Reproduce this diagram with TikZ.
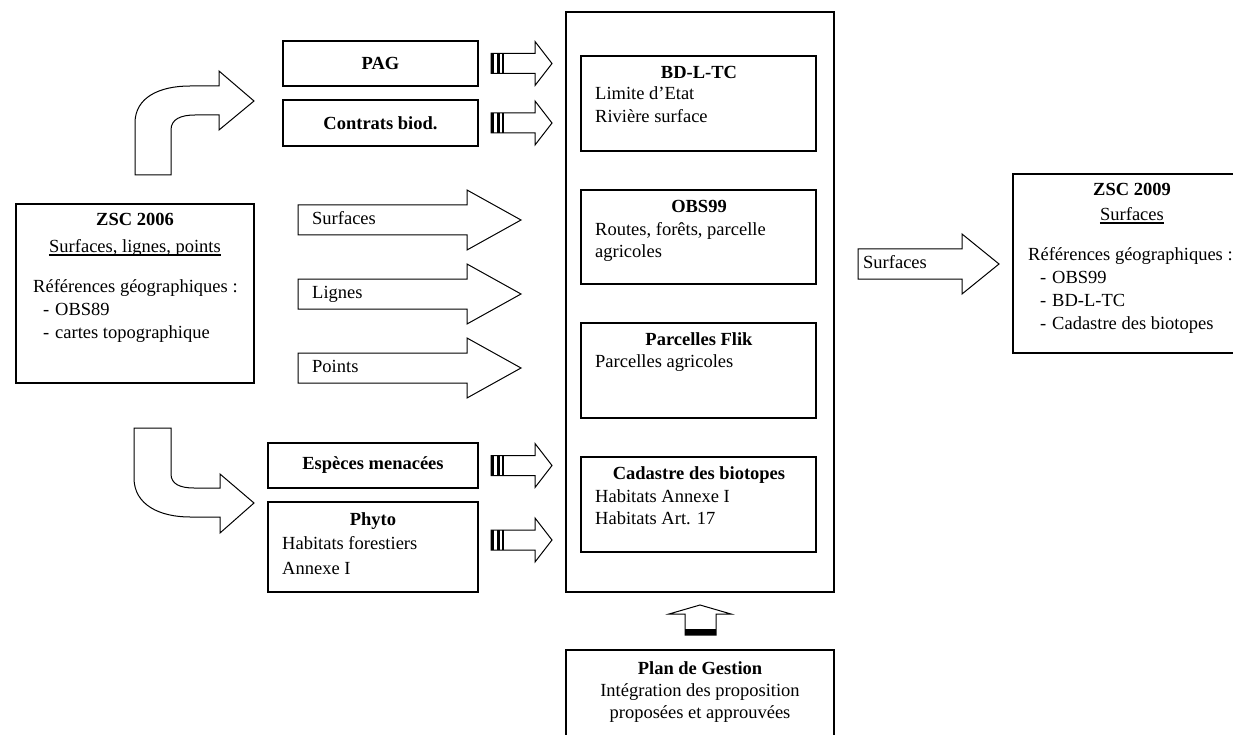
\documentclass[tikz,border=0pt]{standalone}
\usepackage{fontspec}
\setmainfont{Liberation Serif}
\newcommand\myarrow[6]{% x0, yc, xheadbase, xtip, stemhalf, headhalf
  \draw[arr] (#1,#2-#5) -- (#3,#2-#5) -- (#3,#2-#6) -- (#4,#2) -- (#3,#2+#6) -- (#3,#2+#5) -- (#1,#2+#5) -- cycle;}
\newcommand\stripes[2]{% x0, yc
  \fill (#1,#2-10) rectangle (#1+3,#2+10);
  \fill (#1+6,#2-10) rectangle (#1+8.5,#2+10);
  \fill (#1+10.5,#2-10) rectangle (#1+12.5,#2+10);}
\newcommand\dashitem[1]{\makebox[12pt][l]{-}#1}
\newcommand\myfs{\fontsize{18.5}{23}\selectfont}
\begin{document}
\begin{tikzpicture}[x=1pt,y=-1pt,font=\myfs,
  box/.style={draw,line width=1.3pt,inner sep=0pt},
  arr/.style={draw,line width=1pt,fill=white,line join=miter},
  txt/.style={anchor=mid west,inner sep=0pt},
  ttl/.style={anchor=mid,inner sep=0pt,font=\myfs\bfseries},
  ctr/.style={anchor=mid,inner sep=0pt},
  ulin/.style={line width=1.8pt}]
\useasboundingbox (0,0) rectangle (1233,735);
\fill[white] (0,0) rectangle (1233,735);

% left source box
\node[box,minimum width=238pt,minimum height=179pt] (zsc06) at (135,293.5) {};
\node[ttl] (zsc06t) at (135,223) {ZSC 2006};
\node[ctr] (zsc06s) at (135,250) {Surfaces, lignes, points};
\draw[ulin] ([yshift=-3pt]zsc06s.base west) -- ([yshift=-3pt]zsc06s.base east);
\node[txt] (zsc06r) at (33,290) {Références géographiques :};
\node[txt] (zsc06a) at (43,313) {\dashitem{OBS89}};
\node[txt] (zsc06b) at (43,336) {\dashitem{cartes topographique}};

% upper curved arrow
\draw[arr] (135,175) -- (135,123) .. controls (135,97) and (160,86) .. (190,86) -- (219,86) -- (219,71) -- (254,101) -- (219,130) -- (219,115) -- (195,115) .. controls (181,115) and (171,119) .. (171,130) -- (171,175) -- cycle;
% lower curved arrow
\draw[arr] (134,428) -- (134,478) .. controls (134,505) and (160,517) .. (190,517) -- (220,517) -- (220,533) -- (254,503) -- (220,474) -- (220,488) -- (194,488) .. controls (180,488) and (171,484) .. (171,474) -- (171,428) -- cycle;

% PAG, Contrats
\node[box,minimum width=195pt,minimum height=45pt,font=\myfs\bfseries] (pag) at (380.5,63.5) {PAG};
\node[box,minimum width=195pt,minimum height=46pt,font=\myfs\bfseries] (contrats) at (380.5,123) {Contrats biod.};

% Espèces, Phyto
\node[box,minimum width=210pt,minimum height=45pt,font=\myfs\bfseries] (especes) at (373,465.5) {Espèces menacées};
\node[box,minimum width=210pt,minimum height=90pt] (phyto) at (373,547) {};
\node[ttl] (phytot) at (373,523) {Phyto};
\node[txt] (phytoa) at (282,547) {Habitats forestiers};
\node[txt] (phytob) at (282,572) {Annexe I};

% striped arrows
\myarrow{491}{63.5}{535}{552}{10}{22}\stripes{491}{63.5}
\myarrow{491}{123}{535}{552}{10}{22}\stripes{491}{123}
\myarrow{491}{465.5}{535}{552}{10}{22}\stripes{491}{465.5}
\myarrow{491}{540}{535}{552}{10}{22}\stripes{491}{540}

% surfaces / lignes / points arrows
\myarrow{298}{220}{467}{521}{15}{30}
\node[txt] (surf) at (312,222) {Surfaces};
\myarrow{298}{294}{467}{521}{15}{30}
\node[txt] (lign) at (312,296) {Lignes};
\myarrow{298}{368}{467}{521}{15}{30}
\node[txt] (pts) at (312,370) {Points};

% central box
\node[box,minimum width=268pt,minimum height=580pt] (central) at (700,302) {};
\node[box,minimum width=235pt,minimum height=95pt] (bdl) at (698.5,103.5) {};
\node[ttl] (bdlt) at (699,76) {BD-L-TC};
\node[txt] (bdla) at (595,97) {Limite d’Etat};
\node[txt] (bdlb) at (595,120) {Rivière surface};

\node[box,minimum width=235pt,minimum height=94pt] (obs) at (698.5,237) {};
\node[ttl] (obst) at (699,210) {OBS99};
\node[txt] (obsa) at (595,233) {Routes, forêts, parcelle};
\node[txt] (obsb) at (595,255) {agricoles};

\node[box,minimum width=235pt,minimum height=95pt] (flik) at (698.5,370.5) {};
\node[ttl] (flikt) at (699,343) {Parcelles Flik};
\node[txt] (flika) at (595,365) {Parcelles agricoles};

\node[box,minimum width=235pt,minimum height=95pt] (cad) at (698.5,504.5) {};
\node[ttl] (cadt) at (699,477) {Cadastre des biotopes};
\node[txt] (cada) at (595,500) {Habitats Annexe I};
\node[txt] (cadb) at (595,522) {Habitats Art. 17};

% right arrow
\myarrow{858}{264}{962}{999}{15}{30}
\node[txt] (surfr) at (863,266) {Surfaces};

% right box
\node[box,minimum width=230pt,minimum height=179pt] (zsc09) at (1128,263.5) {};
\node[ttl] (zsc09t) at (1132,193) {ZSC 2009};
\node[ctr] (zsc09s) at (1132,218) {Surfaces};
\draw[ulin] ([yshift=-3pt]zsc09s.base west) -- ([yshift=-3pt]zsc09s.base east);
\node[txt] (zsc09r) at (1028,258) {Références géographiques :};
\node[txt] (zsc09a) at (1040,281) {\dashitem{OBS99}};
\node[txt] (zsc09b) at (1040,304) {\dashitem{BD-L-TC}};
\node[txt] (zsc09c) at (1040,327) {\dashitem{Cadastre des biotopes}};

% up arrow
\draw[arr] (685,635) -- (685,614) -- (669,614) -- (700,605) -- (731,614) -- (716,614) -- (716,635) -- cycle;
\fill (685,629) rectangle (716,635);

% plan de gestion
\node[box,minimum width=268pt,minimum height=100pt] (plan) at (700,700) {};
\node[ttl] (plant) at (700,672) {Plan de Gestion};
\node[ctr] (plana) at (700,694) {Intégration des proposition};
\node[ctr] (planb) at (700,716) {proposées et approuvées};
\end{tikzpicture}
\end{document}
